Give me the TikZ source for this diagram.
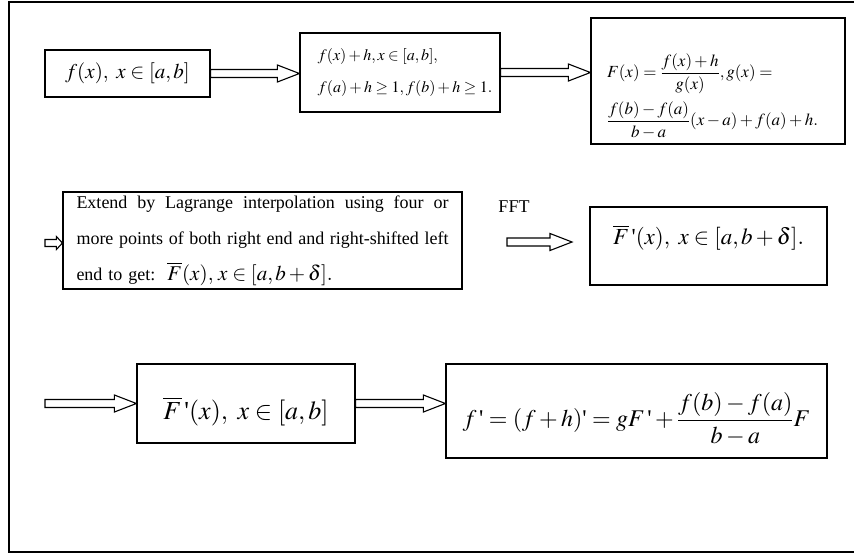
\documentclass[tikz,border=0pt]{standalone}
\usepackage{amsmath}
\usepackage{mathptmx}
\usepackage[no-math]{fontspec}
\setmainfont{Liberation Serif}
\usetikzlibrary{calc}
\newcommand{\fsz}[2]{\fontsize{#1}{#2}\selectfont}
\newcommand{\pr}{\mbox{\textquotesingle}}
\newcommand{\shiftv}[2]{\raisebox{#1}[\height][\depth]{#2}}
\tikzset{
  headlen/.store in=\hlen, headhw/.store in=\hhw, shafthw/.store in=\shw,
  headlen=22pt, headhw=8.5pt, shafthw=4pt,
  box/.style={draw, line width=1.2pt, inner sep=0pt, fill=white},
  arr/.style={draw, line width=1.1pt, fill=white},
  blockarrow/.style={to path={let \p1=(\tikztostart), \p2=(\tikztotarget) in
    (\x1,\y1+\shw) -- (\x2-\hlen,\y1+\shw) -- (\x2-\hlen,\y1+\hhw) -- (\x2,\y1)
    -- (\x2-\hlen,\y1-\hhw) -- (\x2-\hlen,\y1-\shw) -- (\x1,\y1-\shw) -- cycle}},
}
\begin{document}
\begin{tikzpicture}[x=1pt,y=-1pt]
\useasboundingbox (0,0) rectangle (854,555);
\draw[line width=1.2pt] (9,2) rectangle (880,552);

\node[box, minimum width=165pt, minimum height=47pt, font=\fsz{21}{24}] (b1) at (127.5,73.5)
  {$f(x),\ x\in[a,b]$};
\node[box, minimum width=200pt, minimum height=79pt, align=left, font=\fsz{16}{32}] (b2) at (400,72.5)
  {$f(x)+h, x\in[a,b],$\\ $f(a)+h\ge 1, f(b)+h\ge 1.$\hspace*{-10pt}};
\node[box, minimum width=254pt, minimum height=126pt, font=\fsz{17}{48}] (b3) at (718,81)
  {\shiftv{-15pt}{\parbox{222pt}{\raggedright
    $F(x)=\dfrac{f(x)+h}{g(x)}, g(x)=$\\ $\dfrac{f(b)-f(a)}{b-a}(x-a)+f(a)+h.$}}};

\node[box, minimum width=399pt, minimum height=97pt, text width=372pt, align=left, font=\fsz{18}{36}] (b4) at (262.5,240.5)
  {\makebox[372pt][l]{Extend\hfill by\hfill Lagrange\hfill interpolation\hfill using\hfill four\hfill or}\\
   \makebox[372pt][l]{more\hfill points\hfill of\hfill both\hfill right\hfill end\hfill and\hfill right-shifted\hfill left}\\
   end to get:\ \ {\fsz{21}{36}$\overline{F}(x),\,x\in[a,b+\delta].$}};
\node[box, minimum width=237pt, minimum height=78pt, font=\fsz{23}{28}] (b5) at (708.5,246)
  {\shiftv{8pt}{$\overline{F}\,\pr(x),\ x\in[a,b+\delta].$}};
\node[font=\fsz{18}{20}] (fft) at (514,207) {FFT};

\node[box, minimum width=218pt, minimum height=79pt, font=\fsz{26}{30}] (b6) at (246,403.5)
  {\shiftv{-8pt}{$\overline{F}\,\pr(x),\ x\in[a,b]$}};
\node[box, minimum width=381pt, minimum height=94pt, font=\fsz{24}{30}] (b7) at (636.5,411)
  {\shiftv{-8pt}{$f\,\pr=(f+h)\pr=gF\,\pr+\dfrac{f(b)-f(a)}{b-a}F$}};

\coordinate (la) at (45,243);
\coordinate (fa) at (507,242);
\coordinate (fb) at (572,242);
\coordinate (lc) at (45,403.5);

\path[arr] (b1.east) to[blockarrow] (b2.west);
\path[arr] (b2.east) to[blockarrow] (b3.west);
\path[arr, headlen=6pt, headhw=6.5pt, shafthw=3.5pt] (la) to[blockarrow] (b4.west);
\path[arr] (fa) to[blockarrow] (fb);
\path[arr] (lc) to[blockarrow] (b6.west);
\path[arr] (b6.east) to[blockarrow] (b7.west);
\end{tikzpicture}
\end{document}
